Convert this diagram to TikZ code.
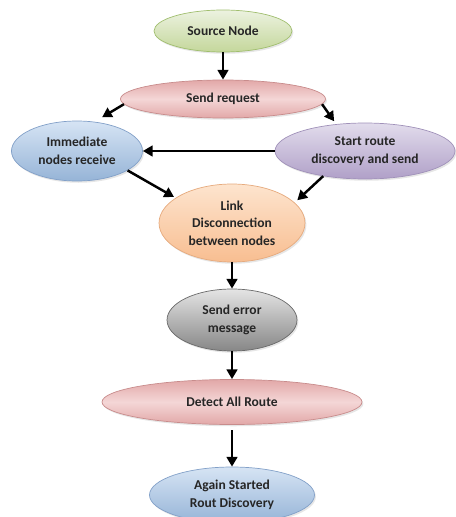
\documentclass[tikz,border=0pt]{standalone}
\usepackage{fontspec}
\setmainfont{Carlito}
\usetikzlibrary{shapes.geometric,arrows.meta,shadows}
\definecolor{TextDark}{RGB}{38,38,38}
\definecolor{GreenTop}{RGB}{236,242,224}
\definecolor{GreenBot}{RGB}{196,215,155}
\definecolor{GreenEdge}{RGB}{160,190,110}
\definecolor{PinkTop}{RGB}{226,168,168}
\definecolor{PinkMid}{RGB}{244,214,214}
\definecolor{PinkEdge}{RGB}{200,140,140}
\definecolor{BlueTop}{RGB}{214,228,244}
\definecolor{BlueBot}{RGB}{150,180,215}
\definecolor{BlueEdge}{RGB}{130,160,200}
\definecolor{LilacTop}{RGB}{226,220,236}
\definecolor{LilacBot}{RGB}{176,160,200}
\definecolor{LilacEdge}{RGB}{160,145,185}
\definecolor{PeachTop}{RGB}{253,228,206}
\definecolor{PeachBot}{RGB}{248,190,145}
\definecolor{PeachEdge}{RGB}{230,170,125}
\definecolor{GreyTop}{RGB}{228,228,228}
\definecolor{GreyBot}{RGB}{135,135,135}
\definecolor{GreyEdge}{RGB}{105,105,105}

\tikzset{
  bubble/.style={ellipse,inner sep=0pt,align=center,text=TextDark,
    font=\fontsize{7.7}{10}\selectfont\bfseries,line width=0.4pt,
    drop shadow={opacity=0.2,shadow xshift=0.8pt,shadow yshift=-1pt}},
  greenfill/.style={top color=GreenTop,bottom color=GreenBot,draw=GreenEdge},
  pinkfill/.style={top color=PinkTop,bottom color=PinkTop,middle color=PinkMid,draw=PinkEdge},
  bluefill/.style={top color=BlueTop,bottom color=BlueBot,draw=BlueEdge},
  lilacfill/.style={top color=LilacTop,bottom color=LilacBot,draw=LilacEdge},
  peachfill/.style={top color=PeachTop,bottom color=PeachBot,draw=PeachEdge},
  greyfill/.style={top color=GreyTop,bottom color=GreyBot,draw=GreyEdge},
  flowarrow/.style={-{Triangle[length=5.5pt,width=6pt]},line width=1.4pt,black}
}

\begin{document}
\begin{tikzpicture}[x=0.02cm,y=-0.02cm]
  \useasboundingbox (0,0) rectangle (456,517);

  % nodes
  \node[bubble,greenfill,minimum width=2.76cm,minimum height=0.84cm] (src) at (223,31) {Source Node};
  \node[bubble,pinkfill,minimum width=4.1cm,minimum height=0.76cm] (req) at (223,99) {Send request};
  \node[bubble,bluefill,minimum width=2.62cm,minimum height=1.2cm] (imm) at (77,151) {Immediate\\nodes receive};
  \node[bubble,lilacfill,minimum width=3.6cm,minimum height=1.12cm] (srd) at (365,151) {Start route\\discovery and send};
  \node[bubble,peachfill,minimum width=2.92cm,minimum height=1.56cm] (link) at (232,223) {Link\\Disconnection\\between nodes};
  \node[bubble,greyfill,minimum width=2.6cm,minimum height=1.24cm] (err) at (232,320) {Send error\\message};
  \node[bubble,pinkfill,minimum width=5.2cm,minimum height=0.9cm] (det) at (232,402) {Detect All Route};
  \node[bubble,bluefill,minimum width=3.3cm,minimum height=1.12cm] (again) at (232,495) {Again Started\\Rout Discovery};

  % connectors
  \draw[flowarrow] (src.south) -- (req.north);
  \draw[flowarrow,shorten >=5pt] (req.183) -- (imm.59);
  \draw[flowarrow,shorten >=2pt] (req.-3) -- (srd.137);
  \draw[flowarrow] (srd.west) -- (imm.east);
  \draw[flowarrow,shorten >=1pt] (imm.-21) -- (link.156);
  \draw[flowarrow,shorten >=2pt] (srd.211) -- (link.18);
  \draw[flowarrow] (link.south) -- (err.north);
  \draw[flowarrow] (err.south) -- (det.north);
  \draw[flowarrow,shorten <=3pt] (det.south) -- (again.north);
\end{tikzpicture}
\end{document}
